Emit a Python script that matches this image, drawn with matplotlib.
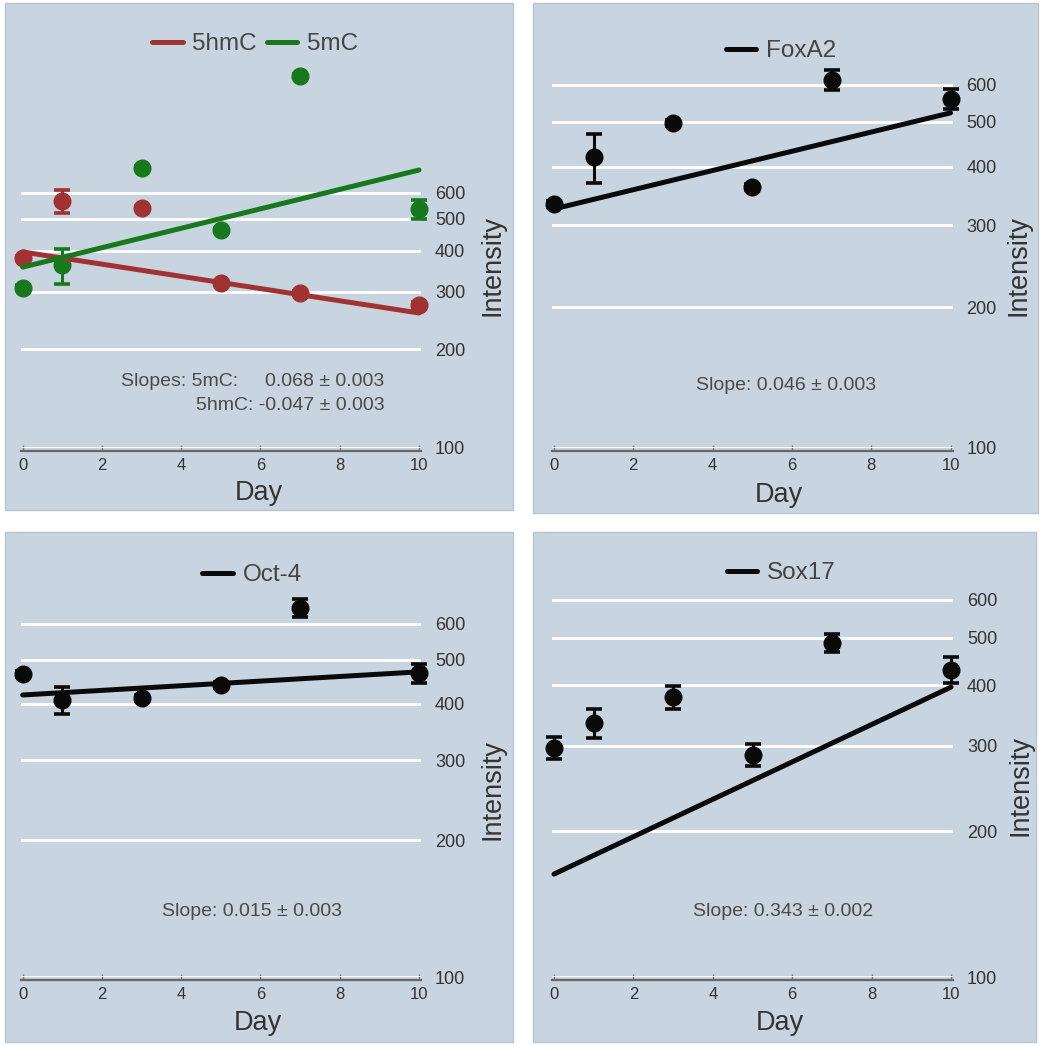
import matplotlib
matplotlib.use('Agg')
import matplotlib.pyplot as plt
from matplotlib.patches import Rectangle
from matplotlib.ticker import NullLocator, FixedLocator, FixedFormatter

plt.rcParams['font.family'] = ['Liberation Sans', 'DejaVu Sans']

# ---------------- data ----------------
days = [0, 1, 3, 5, 7, 10]
fit_days = [0, 10]

hmc_vals = [379, 566, 539, 319, 297, 273]
hmc_err = [6, 45, 8, 5, 5, 5]
hmc_fit = [396, 258]

mc_vals = [308, 361, 714, 462, 1361, 535]
mc_err = [5, 44, 10, 7, 20, 35]
mc_fit = [356, 704]

foxa2_vals = [333, 420, 497, 362, 614, 559]
foxa2_err = [5, 50, 8, 6, 30, 27]
foxa2_fit = [325, 522]

oct4_vals = [465, 408, 412, 440, 650, 467]
oct4_err = [6, 28, 6, 6, 29, 22]
oct4_fit = [418, 470]

sox17_vals = [297, 334, 378, 287, 488, 430]
sox17_err = [16, 23, 21, 15, 21, 26]
sox17_fit = [163, 396]

ytick_vals = [100, 200, 300, 400, 500, 600]
ytick_labels = ['100', '200', '300', '400', '500', '600']
xtick_vals = [0, 2, 4, 6, 8, 10]

slope_texts = {
    'foxa2': 'Slope: 0.046 ± 0.003',
    'oct4': 'Slope: 0.015 ± 0.003',
    'sox17': 'Slope: 0.343 ± 0.002',
}
slope_lines_1 = ['Slopes: 5mC:     0.068 ± 0.003', '5hmC: -0.047 ± 0.003']

# ---------------- style ----------------
W, H = 1050, 1046
BG = '#c8d4e0'
RED = '#a03232'
GREEN = '#17781c'
BLACK = '#0a0a0a'
TXT = '#333333'

fig = plt.figure(figsize=(W / 100, H / 100), dpi=100)
fig.patch.set_facecolor('white')


def fx(px):
    return px / W


def fy(py):
    return 1 - py / H


# panel backgrounds (pixel boxes: x0, y0, x1, y1 from top)
panels = [(5, 3, 513, 510), (533, 3, 1038, 513), (5, 532, 513, 1042), (533, 532, 1036, 1042)]
for (x0, y0, x1, y1) in panels:
    fig.patches.append(Rectangle((fx(x0), fy(y1)), fx(x1) - fx(x0), fy(y0) - fy(y1),
                                 transform=fig.transFigure, facecolor=BG,
                                 edgecolor='#b8c4d0', lw=1, zorder=-10))


def make_ax(left, right, top, bottom, k):
    ax = fig.add_axes([fx(left), fy(bottom), fx(right) - fx(left), fy(top) - fy(bottom)])
    ax.set_facecolor(BG)
    ax.set_yscale('log')
    ax.set_xlim(-0.05, 10.05)
    ax.set_ylim(100, 100 * 10 ** ((bottom - top) / k))
    ax.yaxis.tick_right()
    ax.yaxis.set_major_locator(FixedLocator(ytick_vals))
    ax.yaxis.set_major_formatter(FixedFormatter(ytick_labels))
    ax.yaxis.set_minor_locator(NullLocator())
    ax.tick_params(axis='y', length=0, pad=10, labelsize=13, labelcolor=TXT)
    ax.set_xticks(xtick_vals)
    ax.tick_params(axis='x', direction='in', length=4, width=1, color='#777777',
                   labelsize=12, labelcolor=TXT, pad=5)
    ax.grid(axis='y', color='white', lw=2)
    ax.grid(axis='x', visible=False)
    ax.set_axisbelow(True)
    for s in ['top', 'right', 'left']:
        ax.spines[s].set_visible(False)
    ax.spines['bottom'].set_color('#666666')
    ax.spines['bottom'].set_linewidth(1.6)
    ax.spines['bottom'].set_position(('outward', 2))
    return ax


def series(ax, vals, err, fit, color, label):
    ax.errorbar(days, vals, yerr=err, fmt='o', ms=12, color=color, mec=color,
                ecolor=color, elinewidth=2.2, capsize=6, capthick=2.6, clip_on=False, zorder=3)
    line, = ax.plot(fit_days, fit, color=color, lw=3.6, solid_capstyle='round',
                    label=label, clip_on=False, zorder=4)
    return line


def legend(ax, handles, cx, cy):
    leg = ax.legend(handles=handles, loc='center', bbox_to_anchor=(fx(cx), fy(cy)),
                    bbox_transform=fig.transFigure, ncol=len(handles), frameon=False,
                    fontsize=17.5, handlelength=1.25, handletextpad=0.4,
                    columnspacing=0.4, borderpad=0)
    for t in leg.get_texts():
        t.set_color('#444444')


def labels(day_x, day_y, int_x, int_y):
    fig.text(fx(day_x), fy(day_y), 'Day', ha='center', va='baseline', fontsize=19.5, color=TXT)
    fig.text(fx(int_x), fy(int_y), 'Intensity', ha='center', va='center', rotation=90,
             fontsize=19.5, color=TXT)


# Panel 1: 5hmC / 5mC
ax1 = make_ax(20.7, 421, 15, 448, 328)
l1 = series(ax1, hmc_vals, hmc_err, hmc_fit, RED, '5hmC')
l2 = series(ax1, mc_vals, mc_err, mc_fit, GREEN, '5mC')
legend(ax1, [l1, l2], 255, 44)
fig.text(fx(384), fy(382), slope_lines_1[0], ha='right', va='center', fontsize=14, color='#4a4a4a')
fig.text(fx(385), fy(405), slope_lines_1[1], ha='right', va='center', fontsize=14, color='#4a4a4a')
labels(259, 500, 492, 266)

# Panel 2: FoxA2
ax2 = make_ax(552, 952.5, 15, 448, 467)
l = series(ax2, foxa2_vals, foxa2_err, foxa2_fit, BLACK, 'FoxA2')
legend(ax2, [l], 781, 51)
fig.text(fx(786), fy(386), slope_texts['foxa2'], ha='center', va='center', fontsize=14, color='#4a4a4a')
labels(779, 502, 1018, 265)

# Panel 3: Oct-4
ax3 = make_ax(20.7, 421, 545, 977, 454)
l = series(ax3, oct4_vals, oct4_err, oct4_fit, BLACK, 'Oct-4')
legend(ax3, [l], 252, 575)
fig.text(fx(252), fy(911), slope_texts['oct4'], ha='center', va='center', fontsize=14, color='#4a4a4a')
labels(258, 1030, 492, 790)

# Panel 4: Sox17
ax4 = make_ax(552, 953, 545, 977, 485)
l = series(ax4, sox17_vals, sox17_err, sox17_fit, BLACK, 'Sox17')
legend(ax4, [l], 781, 573)
fig.text(fx(783), fy(911), slope_texts['sox17'], ha='center', va='center', fontsize=14, color='#4a4a4a')
labels(780, 1030, 1020, 786)

fig.savefig('out.png', dpi=100, facecolor='white')
